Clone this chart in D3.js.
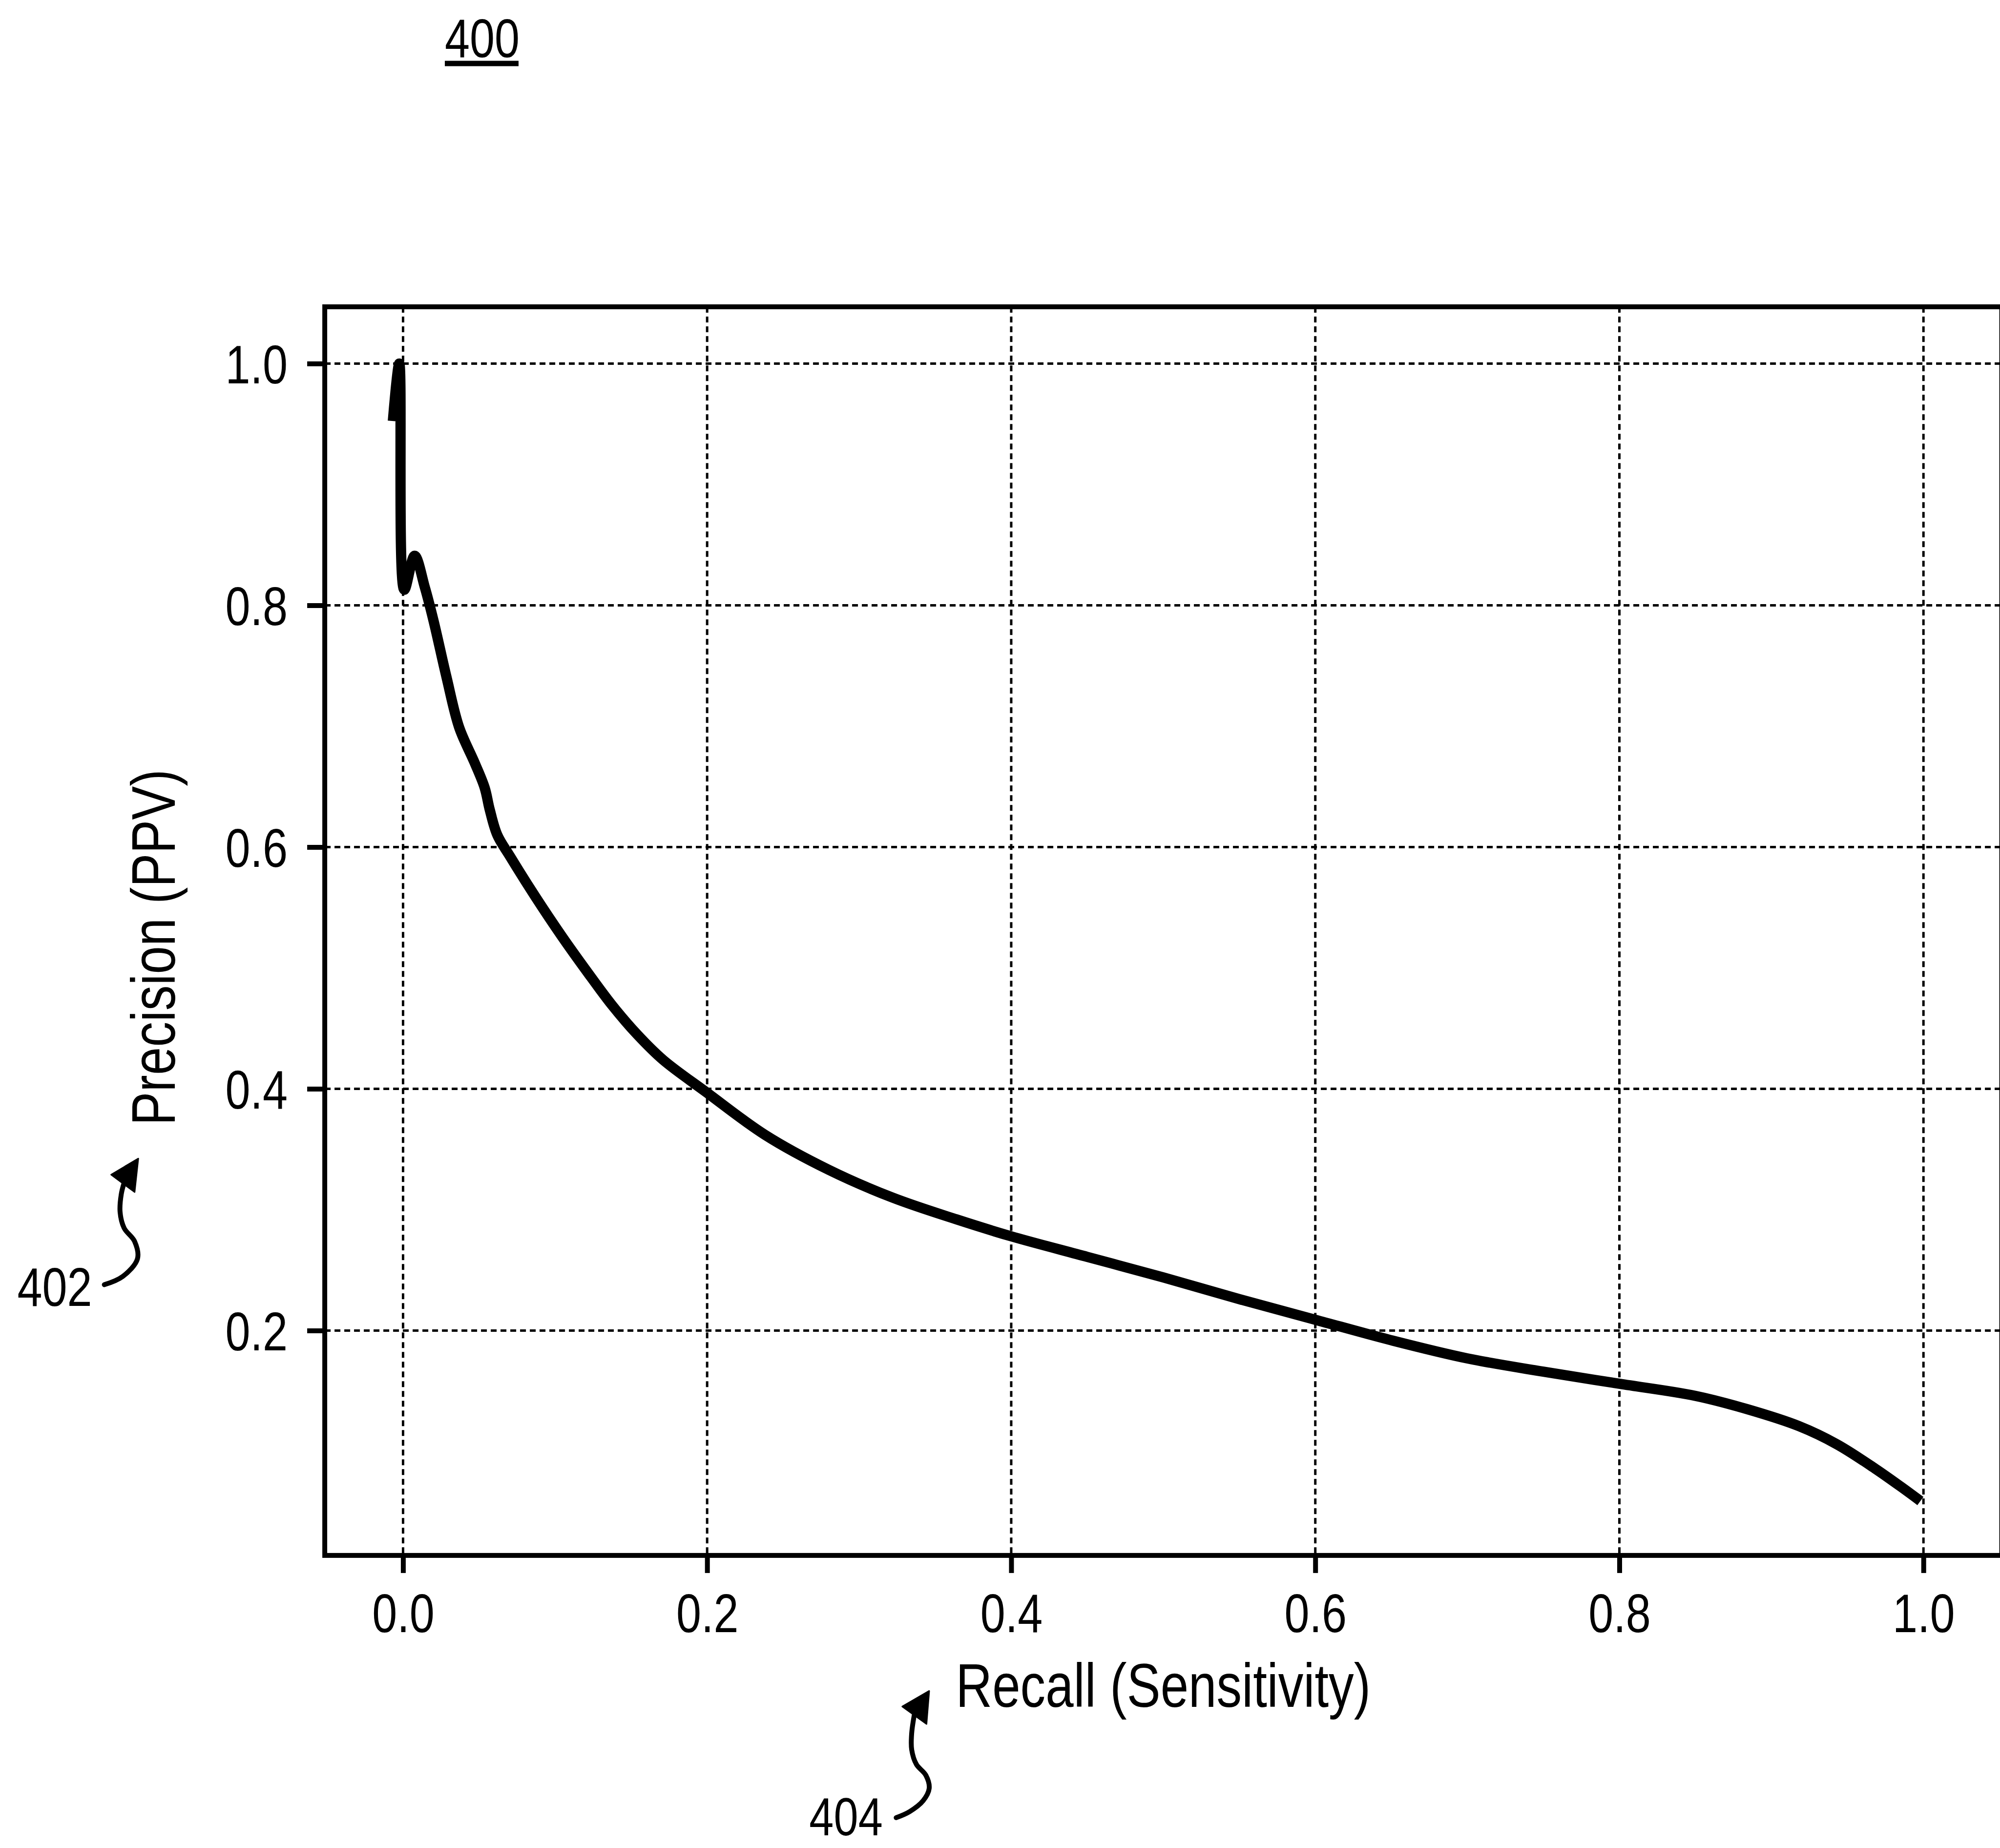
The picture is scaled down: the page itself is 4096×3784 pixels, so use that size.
<!DOCTYPE html>
<html>
<head>
<meta charset="utf-8">
<script src="https://cdn.jsdelivr.net/npm/d3@7"></script>
<style>
  html, body { margin: 0; padding: 0; background: #ffffff; }
  svg { display: block; }
  text { font-family: "Liberation Sans", Arial, sans-serif; fill: #000; }
</style>
</head>
<body>
<svg id="fig" width="4096" height="3784"></svg>
<script>
// Precision-recall curve values
const recall = [
  -0.0067, -0.0025, 0.0008, 0.0076, 0.0143, 0.0201, 0.0285, 0.0369, 0.047, 0.0537,
  0.057, 0.062, 0.0705, 0.087, 0.104, 0.121, 0.1376, 0.154, 0.171, 0.1997,
  0.238, 0.280, 0.322, 0.364, 0.400, 0.450, 0.500, 0.550, 0.600, 0.650,
  0.700, 0.750, 0.800, 0.850, 0.884, 0.918, 0.943, 0.968, 0.985, 0.998
];
const precision = [
  0.9525, 1.0, 0.813, 0.841, 0.815, 0.787, 0.741, 0.699, 0.670, 0.649,
  0.631, 0.610, 0.592, 0.559, 0.527, 0.497, 0.469, 0.445, 0.424, 0.397,
  0.362, 0.333, 0.310, 0.292, 0.278, 0.261, 0.244, 0.226, 0.209, 0.192,
  0.177, 0.166, 0.156, 0.146, 0.135, 0.121, 0.106, 0.086, 0.071, 0.059
];
const xTickValues = [0.0, 0.2, 0.4, 0.6, 0.8, 1.0];
const yTickValues = [0.2, 0.4, 0.6, 0.8, 1.0];
const xLabel = "Recall (Sensitivity)";
const yLabel = "Precision (PPV)";
const figureNumber = "400";
const yRefLabel = "402";
const xRefLabel = "404";

const svg = d3.select("#fig");
const plot = { left: 665.1, right: 4099.6, top: 628.2, bottom: 3184.9 };

const x = d3.scaleLinear().domain([-0.0515, 1.0515]).range([plot.left, plot.right]);
const y = d3.scaleLinear().domain([0.014, 1.047]).range([plot.bottom, plot.top]);

const fmt = d3.format(".1f");
const tickFont = 112;
const labelFont = 126;
const squeeze = 0.82;   // condensed lettering

// place a text at (tx, ty), horizontally condensed around its anchor
function placeNarrow(sel, tx, ty, extra = "") {
  sel.attr("x", 0).attr("y", 0).attr("dy", null)
     .attr("transform", `translate(${tx},${ty})${extra} scale(${squeeze},1)`);
}

// dashed grid
const grid = svg.append("g").attr("stroke", "#000").attr("stroke-width", 5)
  .attr("stroke-dasharray", "12 8").attr("fill", "none");
grid.selectAll("line.gx").data(xTickValues).join("line")
  .attr("x1", d => x(d)).attr("x2", d => x(d))
  .attr("y1", plot.top).attr("y2", plot.bottom);
grid.selectAll("line.gy").data(yTickValues).join("line")
  .attr("x1", plot.left).attr("x2", plot.right)
  .attr("y1", d => y(d)).attr("y2", d => y(d));

// curve
const pts = recall.map((r, i) => [r, precision[i]]);
const line = d3.line().x(d => x(d[0])).y(d => y(d[1])).curve(d3.curveCatmullRom.alpha(0.5));
svg.append("path").datum(pts).attr("d", line)
  .attr("fill", "none").attr("stroke", "#000").attr("stroke-width", 21)
  .attr("stroke-linejoin", "round").attr("stroke-linecap", "butt");

// axes
const xAxis = d3.axisBottom(x).tickValues(xTickValues).tickFormat(fmt)
  .tickSize(36).tickSizeOuter(0);
const yAxis = d3.axisLeft(y).tickValues(yTickValues).tickFormat(fmt)
  .tickSize(36).tickSizeOuter(0);

const gx = svg.append("g").attr("transform", `translate(0,${plot.bottom})`).call(xAxis);
const gy = svg.append("g").attr("transform", `translate(${plot.left},0)`).call(yAxis);
[gx, gy].forEach(g => {
  g.attr("font-family", null).attr("font-size", null);
  g.select(".domain").remove();
  g.selectAll(".tick line").attr("stroke", "#000").attr("stroke-width", 10);
  g.selectAll(".tick text").attr("font-size", tickFont)
    .attr("font-family", '"Liberation Sans", Arial, sans-serif').attr("fill", "#000");
});
gx.selectAll(".tick text").each(function () { placeNarrow(d3.select(this), 0, 157); });
gy.selectAll(".tick text").each(function () { placeNarrow(d3.select(this), -76, 40); });

// frame
svg.append("rect")
  .attr("x", plot.left).attr("y", plot.top)
  .attr("width", plot.right - plot.left).attr("height", plot.bottom - plot.top)
  .attr("fill", "none").attr("stroke", "#000").attr("stroke-width", 10);

// axis titles
placeNarrow(svg.append("text").attr("text-anchor", "middle").attr("font-size", labelFont).text(xLabel),
  (plot.left + plot.right) / 2, 3495);
placeNarrow(svg.append("text").attr("text-anchor", "middle").attr("font-size", labelFont).text(yLabel),
  358, 1940, " rotate(-90)");

// figure number
placeNarrow(svg.append("text").attr("text-anchor", "middle").attr("font-size", 112).text(figureNumber),
  987.5, 117);
svg.append("line").attr("x1", 911).attr("x2", 1062).attr("y1", 130).attr("y2", 130)
  .attr("stroke", "#000").attr("stroke-width", 11);

// reference callouts with curved arrows
const callout = d3.line().curve(d3.curveCatmullRom.alpha(0.5));
function arrow(shaft, head) {
  svg.append("path").attr("d", callout(shaft)).attr("fill", "none")
    .attr("stroke", "#000").attr("stroke-width", 10).attr("stroke-linecap", "round");
  svg.append("path").attr("d", "M" + head.map(p => p.join(",")).join("L") + "Z")
    .attr("fill", "#000").attr("stroke", "#000").attr("stroke-width", 3).attr("stroke-linejoin", "round");
}
arrow([[213.6,2630.6],[250.9,2614],[281.5,2577.6],[275.7,2542],[254.2,2514.6],[245.9,2481.5],[248.4,2445],[254.2,2422]],
      [[283.2,2372.2],[227.7,2405.3],[275.7,2440.9]]);
arrow([[1835.4,3721.9],[1863,3709.4],[1890.6,3687.1],[1903,3661.8],[1896.1,3634.9],[1876.8,3612.8],[1867.1,3582.4],[1867.1,3549.4],[1872.7,3510]],
      [[1903,3462.4],[1847.8,3494.2],[1897.5,3530]]);

placeNarrow(svg.append("text").attr("text-anchor", "middle").attr("font-size", 112).text(yRefLabel),
  112, 2674);
placeNarrow(svg.append("text").attr("text-anchor", "middle").attr("font-size", 110).text(xRefLabel),
  1732.6, 3758);
</script>
</body>
</html>
